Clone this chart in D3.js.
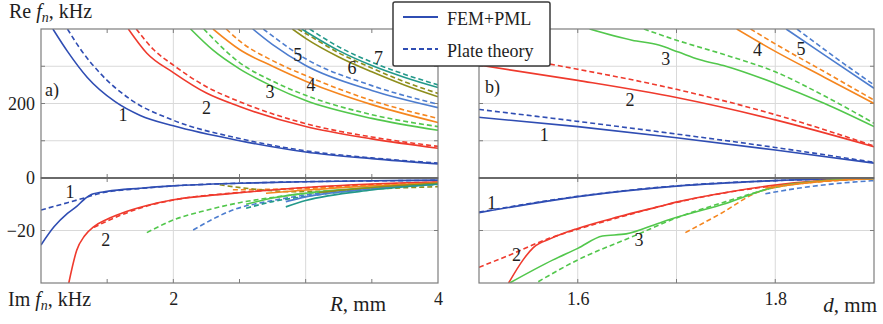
<!DOCTYPE html>
<html>
<head>
<meta charset="utf-8">
<script src="https://cdn.jsdelivr.net/npm/d3@7"></script>
<style>
  body { margin: 0; background: #fff; }
  svg { display: block; }
</style>
</head>
<body>
<svg id="chart" width="883" height="324"></svg>
<script>
// ---- data -------------------------------------------------------------
const modes = ["1", "2", "3", "4", "5", "6", "7"];
const modeColors = ["#2f4db3", "#ef3a2d", "#52c74c", "#f5861f", "#4d7dcf", "#8e8e1c", "#23998a"];

// a) Re f_n (kHz) against R (mm)
const reA_fem = [
  [[1.09,400],[1.2,340],[1.35,270],[1.56,205],[1.75,168],[2,140],[2.5,100],[3,70],[3.5,52],[4,38]],
  [[1.66,400],[1.8,335],[2,283],[2.25,228],[2.5,192],[3,138],[3.5,105],[4,80]],
  [[2.13,400],[2.3,343],[2.5,293],[2.75,246],[3,208],[3.5,160],[4,128]],
  [[2.3,400],[2.5,345],[2.75,300],[3,260],[3.25,226],[3.5,197],[4,149]],
  [[2.6,400],[2.75,358],[3,302],[3.5,235],[4,189]],
  [[2.9,400],[3,375],[3.25,325],[3.5,285],[3.75,249],[4,218]],
  [[2.97,400],[3.25,342],[3.5,302],[3.75,270],[4,243]]
];
const reA_plate = [
  [[1.2,400],[1.3,345],[1.45,280],[1.68,210],[2,155],[2.5,106],[3,73],[3.5,54],[4,40]],
  [[1.72,400],[1.85,345],[2,303],[2.25,245],[2.5,205],[3,146],[3.5,110],[4,85]],
  [[2.23,400],[2.5,310],[2.75,260],[3,222],[3.5,170],[4,138]],
  [[2.4,400],[2.5,368],[2.75,315],[3,275],[3.5,208],[4,160]],
  [[2.68,400],[3,320],[3.5,248],[4,198]],
  [[2.94,400],[3,388],[3.25,336],[3.5,295],[3.75,258],[4,227]],
  [[3.03,400],[3.25,352],[3.5,311],[3.75,278],[4,250]]
];
// a) Im f_n (kHz) against R (mm)
const imA_fem = [
  [[1,-25.5],[1.1,-18.5],[1.2,-13.5],[1.27,-10.8],[1.33,-8],[1.38,-6.3],[1.5,-5.1],[1.75,-3.9],[2,-3],[2.5,-2],[3,-1.4],[3.5,-1.05],[4,-0.8]],
  [[1.21,-40],[1.27,-27.5],[1.33,-22],[1.4,-18.5],[1.5,-15.7],[1.6,-13.6],[1.8,-10.5],[2,-8.3],[2.25,-6.8],[2.5,-5.6],[3,-3.6],[3.5,-2.3],[4,-1.5]],
  [[2.55,-10],[2.75,-7.6],[3,-5.8],[3.5,-3.6],[4,-2.2]],
  [[2.7,-5.8],[3,-4.6],[3.5,-3],[4,-1.8]],
  [[2.85,-9],[3,-7.2],[3.5,-4.2],[4,-2.3]],
  [[3.1,-5.5],[3.5,-3.6],[4,-2]],
  [[2.85,-11],[3,-8.6],[3.5,-4.6],[4,-2.4]]
];
const imA_plate = [
  [[1,-12.2],[1.2,-9.4],[1.32,-7.7],[1.45,-5.8],[1.75,-4],[2,-3],[2.5,-2],[3,-1.4],[3.5,-1.1],[4,-0.9]],
  [[1.4,-18.8],[1.5,-16.4],[1.6,-14.2],[1.8,-10.7],[2,-8.4],[2.5,-5.5],[3,-3.7],[3.5,-2.5],[4,-1.6]],
  [[1.8,-20.8],[2,-16],[2.25,-12.3],[2.5,-9.4],[2.75,-7.4],[3,-5.9],[3.5,-3.8],[4,-2.3]],
  [[2.45,-4.5],[2.75,-4.3],[3,-4],[3.5,-2.8],[4,-1.9]],
  [[2.15,-19.8],[2.45,-12.2],[2.75,-8.6],[3,-6.5],[3.5,-3.9],[4,-2.3]],
  [[2.35,-2.6],[2.6,-4.2],[2.9,-5.2],[3.2,-4.9],[3.6,-4],[4,-3.3]],
  [[2.55,-11.5],[2.75,-9],[3,-7],[3.5,-4.2],[4,-2.4]]
];

// b) Re f_n (kHz) against d (mm)
const reB_fem = [
  [[1.5,163],[1.6,138],[1.7,108],[1.8,75],[1.9,40]],
  [[1.5,303],[1.6,262],[1.7,216],[1.8,156],[1.9,84]],
  [[1.612,400],[1.655,370],[1.682,357],[1.702,338],[1.723,318],[1.75,300],[1.8,254],[1.85,200],[1.9,138]],
  [[1.761,400],[1.8,340],[1.85,270],[1.9,200]],
  [[1.811,400],[1.85,330],[1.9,241]]
];
const reB_plate = [
  [[1.5,184],[1.6,152],[1.7,118],[1.8,82],[1.9,42]],
  [[1.5,338],[1.6,292],[1.7,238],[1.8,170],[1.9,86]],
  [[1.667,400],[1.7,370],[1.75,330],[1.8,285],[1.85,220],[1.9,147]],
  [[1.775,400],[1.8,360],[1.85,285],[1.9,209]],
  [[1.822,400],[1.86,325],[1.9,250]]
];
// b) Im f_n (kHz) against d (mm)
const imB_fem = [
  [[1.5,-13.2],[1.6,-7.1],[1.7,-3.1],[1.8,-1],[1.9,-0.1]],
  [[1.53,-40],[1.545,-31],[1.555,-26.5],[1.573,-23],[1.6,-19.2],[1.642,-14.7],[1.682,-10.9],[1.702,-9],[1.75,-5.5],[1.8,-2.7],[1.85,-0.9],[1.9,-0.1]],
  [[1.531,-40],[1.575,-31.2],[1.6,-26.8],[1.625,-22.1],[1.649,-21.3],[1.682,-17.2],[1.702,-14.8],[1.75,-9.7],[1.8,-3.3],[1.85,-1],[1.9,-0.2]],
  [[1.79,-3.8],[1.85,-1.2],[1.9,-0.3]],
  null
];
const imB_plate = [
  [[1.5,-13],[1.6,-7],[1.7,-3],[1.8,-1],[1.9,-0.1]],
  [[1.5,-34],[1.53,-29.5],[1.571,-23],[1.6,-19.5],[1.642,-15],[1.7,-9.3],[1.8,-2.9],[1.9,-0.1]],
  [[1.56,-39.5],[1.6,-31.2],[1.655,-22.4],[1.7,-15.2],[1.75,-9],[1.8,-3.6],[1.85,-1.1],[1.9,-0.2]],
  [[1.709,-20.8],[1.745,-13.5],[1.783,-5.3],[1.8,-3.6],[1.85,-1.3],[1.9,-0.3]],
  [[1.79,-6],[1.823,-3.9],[1.86,-2.2],[1.9,-1]]
];

// curve number annotations: [mode index, x value, y value]
const labelsReA = [[0,1.62,169],[1,2.25,190],[2,2.73,231],[3,3.04,250],[4,2.94,330],[5,3.35,295],[6,3.55,322]];
const labelsImA = [[0,1.22,-5.2],[1,1.49,-23.6]];
const labelsReB = [[0,1.566,115],[1,1.653,209],[2,1.689,321],[3,1.782,345],[4,1.826,348]];
const labelsImB = [[0,1.513,-9.4],[1,1.538,-29.3],[2,1.662,-23.6]];

// axis ticks
const gridA = [2, 3], minorA = [1.5, 2.5, 3.5], tickLabelsA = [2, 4];
const gridB = [1.6, 1.7, 1.8], tickLabelsB = [1.6, 1.8];
const gridRe = [100, 200, 300], tickLabelsRe = [200];
const gridIm = [-20], tickLabelsIm = [0, -20];

// ---- layout ------------------------------------------------------------
const serif = '"Liberation Serif", "Times New Roman", Tinos, serif';
const svg = d3.select("#chart").attr("font-family", serif);
const yTop = 29, yMid = 178, yBot = 283;
const xA = d3.scaleLinear().domain([1, 4]).range([41, 438]);
const xB = d3.scaleLinear().domain([1.5, 1.9]).range([479, 874]);
const yRe = d3.scaleLinear().domain([0, 400]).range([yMid, yTop]);
const yIm = d3.scaleLinear().domain([-40, 0]).range([yBot, yMid]);

const gridColor = "#d9d9d9", frameColor = "#7d7d7d", textColor = "#1e1e1e";
const defs = svg.append("defs");

function panel(id, x, y, grid, minor, yGrid) {
  const [x0, x1] = x.range(), [y0, y1] = [y.range()[1], y.range()[0]];
  defs.append("clipPath").attr("id", id).append("rect")
    .attr("x", x0).attr("y", y0).attr("width", x1 - x0).attr("height", y1 - y0);
  const g = svg.append("g");
  g.selectAll(null).data(grid).join("line")
    .attr("x1", d => x(d)).attr("x2", d => x(d)).attr("y1", y0).attr("y2", y1)
    .attr("stroke", gridColor).attr("stroke-width", 1);
  g.selectAll(null).data(yGrid).join("line")
    .attr("x1", x0).attr("x2", x1).attr("y1", d => y(d)).attr("y2", d => y(d))
    .attr("stroke", gridColor).attr("stroke-width", 1);
  const tl = 4;
  [...grid, ...minor].forEach(v => {
    g.append("line").attr("x1", x(v)).attr("x2", x(v)).attr("y1", y0).attr("y2", y0 + tl).attr("stroke", frameColor);
    g.append("line").attr("x1", x(v)).attr("x2", x(v)).attr("y1", y1).attr("y2", y1 - tl).attr("stroke", frameColor);
  });
  yGrid.forEach(v => {
    g.append("line").attr("x1", x0).attr("x2", x0 + tl).attr("y1", y(v)).attr("y2", y(v)).attr("stroke", frameColor);
    g.append("line").attr("x1", x1).attr("x2", x1 - tl).attr("y1", y(v)).attr("y2", y(v)).attr("stroke", frameColor);
  });
  return { g, x0, x1, y0, y1 };
}

function curves(id, x, y, fem, plate) {
  const line = d3.line().x(d => x(d[0])).y(d => y(d[1])).curve(d3.curveMonotoneX);
  const g = svg.append("g").attr("clip-path", `url(#${id})`).attr("fill", "none");
  plate.forEach((pts, i) => {
    if (!pts) return;
    g.append("path").attr("d", line(pts)).attr("stroke", modeColors[i])
      .attr("stroke-width", 1.6).attr("stroke-dasharray", "5,3");
  });
  fem.forEach((pts, i) => {
    if (!pts) return;
    g.append("path").attr("d", line(pts)).attr("stroke", modeColors[i]).attr("stroke-width", 1.6);
  });
}

function modeLabels(x, y, list) {
  svg.append("g").selectAll(null).data(list).join("text")
    .attr("x", d => x(d[1])).attr("y", d => y(d[2])).attr("dy", "0.35em")
    .attr("text-anchor", "middle").attr("font-size", 18).attr("font-family", serif).attr("fill", textColor)
    .text(d => modes[d[0]]);
}

function frame(p) {
  svg.append("rect").attr("x", p.x0).attr("y", p.y0).attr("width", p.x1 - p.x0).attr("height", p.y1 - p.y0)
    .attr("fill", "none").attr("stroke", frameColor).attr("stroke-width", 1.2);
}

const pAR = panel("clipAR", xA, yRe, gridA, minorA, gridRe);
const pAI = panel("clipAI", xA, yIm, gridA, minorA, gridIm);
const pBR = panel("clipBR", xB, yRe, gridB, [], gridRe);
const pBI = panel("clipBI", xB, yIm, gridB, [], gridIm);

curves("clipAR", xA, yRe, reA_fem, reA_plate);
curves("clipAI", xA, yIm, imA_fem, imA_plate);
curves("clipBR", xB, yRe, reB_fem, reB_plate);
curves("clipBI", xB, yIm, imB_fem, imB_plate);

[pAR, pAI, pBR, pBI].forEach(frame);
// heavier line where the Re and Im parts meet
[xA.range(), xB.range()].forEach(([a, b]) => {
  svg.append("line").attr("x1", a).attr("x2", b).attr("y1", yMid).attr("y2", yMid)
    .attr("stroke", "#6a6a6a").attr("stroke-width", 2.2);
});

modeLabels(xA, yRe, labelsReA);
modeLabels(xA, yIm, labelsImA);
modeLabels(xB, yRe, labelsReB);
modeLabels(xB, yIm, labelsImB);

// ---- axis labels ------------------------------------------------------
function styleAxis(g) {
  g.attr("font-family", serif);
  g.select(".domain").remove();
  g.selectAll("text").attr("font-size", 18).attr("font-family", serif).attr("fill", textColor);
}
function bottomAxis(x, vals) {
  svg.append("g").attr("transform", `translate(0,${yBot})`)
    .call(d3.axisBottom(x).tickValues(vals).tickSize(0).tickPadding(9).tickFormat(d3.format("")))
    .call(styleAxis);
}
bottomAxis(xA, tickLabelsA);
bottomAxis(xB, tickLabelsB);

function leftAxis(y, vals) {
  svg.append("g").attr("transform", `translate(${xA.range()[0]},0)`)
    .call(d3.axisLeft(y).tickValues(vals).tickSize(0).tickPadding(6).tickFormat(d3.format("")))
    .call(styleAxis);
}
leftAxis(yRe, tickLabelsRe);
leftAxis(yIm, tickLabelsIm);

function quantityLabel(x, y, head) {
  const t = svg.append("text").attr("x", x).attr("y", y).attr("font-size", 20)
    .attr("font-family", serif).attr("fill", textColor);
  t.append("tspan").text(head + " ");
  t.append("tspan").attr("font-style", "italic").text("f");
  t.append("tspan").attr("font-style", "italic").attr("font-size", 14).attr("dy", 4).text("n");
  t.append("tspan").attr("dy", -4).text(", kHz");
}
quantityLabel(9, 18, "Re");
quantityLabel(8, 306, "Im");

function lengthLabel(x, y, sym, anchor) {
  const t = svg.append("text").attr("x", x).attr("y", y).attr("font-size", 21)
    .attr("font-family", serif).attr("text-anchor", anchor).attr("fill", textColor);
  t.append("tspan").attr("font-style", "italic").text(sym);
  t.append("tspan").text(", mm");
}
lengthLabel(330, 311, "R", "start");
lengthLabel(877, 312, "d", "end");

svg.append("text").attr("x", 45).attr("y", 96).attr("font-size", 18).attr("font-family", serif).attr("fill", textColor).text("a)");
svg.append("text").attr("x", 485).attr("y", 93).attr("font-size", 18).attr("font-family", serif).attr("fill", textColor).text("b)");

// ---- legend -------------------------------------------------------------
const lg = svg.append("g");
lg.append("rect").attr("x", 393).attr("y", 2).attr("width", 157).attr("height", 64).attr("rx", 2)
  .attr("fill", "#fff").attr("stroke", "#3a3a3a").attr("stroke-width", 1.5);
const legendItems = [["FEM+PML", null], ["Plate theory", "5,3"]];
legendItems.forEach(([name, dash], i) => {
  const ly = 17 + i * 32;
  lg.append("line").attr("x1", 403).attr("x2", 438).attr("y1", ly).attr("y2", ly)
    .attr("stroke", modeColors[0]).attr("stroke-width", 2).attr("stroke-dasharray", dash);
  lg.append("text").attr("x", 447).attr("y", ly + 8).attr("font-size", 18)
    .attr("font-family", serif).attr("fill", textColor).text(name);
});
</script>
</body>
</html>
